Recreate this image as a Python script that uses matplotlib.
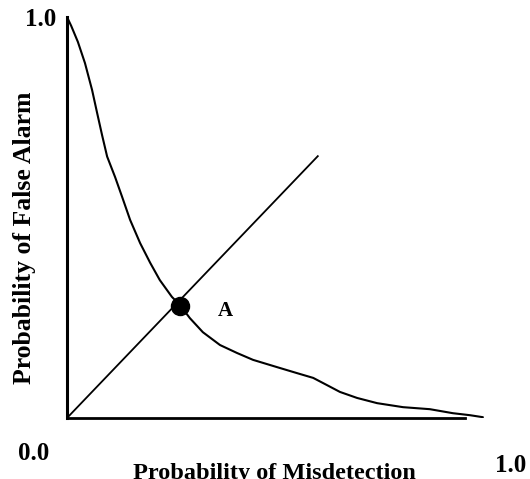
import matplotlib.pyplot as plt

# trade-off curve (misdetection vs false alarm)
curve_x = [0.0, 0.010, 0.026, 0.043, 0.060, 0.072, 0.084, 0.096, 0.115, 0.132,
           0.151, 0.175, 0.199, 0.222, 0.251, 0.270, 0.294, 0.325, 0.366, 0.407,
           0.445, 0.502, 0.550, 0.589, 0.622, 0.653, 0.694, 0.742, 0.804, 0.868,
           0.923, 0.964, 0.995]
curve_y = [1.0, 0.978, 0.938, 0.885, 0.818, 0.761, 0.705, 0.652, 0.601, 0.551,
           0.494, 0.436, 0.387, 0.344, 0.302, 0.282, 0.249, 0.214, 0.182, 0.162,
           0.145, 0.127, 0.112, 0.100, 0.082, 0.065, 0.050, 0.037, 0.027, 0.022,
           0.012, 0.007, 0.002]

# straight line through the operating point
diag_x = [0.0, 0.600]
diag_y = [0.0, 0.653]

point_x = 0.270
point_y = 0.280
point_label = "A"

W, H = 530, 479
fig = plt.figure(figsize=(W / 100, H / 100), dpi=100)
ax = fig.add_axes([67 / W, (H - 418) / H, (485 - 67) / W, (418 - 17) / H])

font = dict(family="Liberation Serif", fontweight="bold", color="black")

ax.plot(curve_x, curve_y, color="black", lw=1.5, solid_capstyle="round",
        solid_joinstyle="round")
ax.plot(diag_x, diag_y, color="black", lw=1.3)
ax.plot(point_x, point_y, "o", color="black", markersize=13)
ax.text(point_x + 0.108, point_y - 0.013, point_label, fontsize=15,
        ha="center", va="center", **font)

ax.set_xlim(0, 1)
ax.set_ylim(0, 1)
ax.set_xticks([])
ax.set_yticks([])
for s in ["top", "right"]:
    ax.spines[s].set_visible(False)
ax.spines["left"].set_linewidth(2.2)
ax.spines["bottom"].set_linewidth(2.0)
ax.spines["bottom"].set_bounds(0, 0.952)

fig.text(56 / W, 1 - 19 / H, "1.0", fontsize=18, ha="right", va="center", **font)
fig.text(34 / W, 1 - 453 / H, "0.0", fontsize=18, ha="center", va="center", **font)
fig.text(511 / W, 1 - 465 / H, "1.0", fontsize=18, ha="center", va="center", **font)
fig.text(274 / W, 1 - 473 / H, "Probability of Misdetection", fontsize=17.5,
         ha="center", va="center", **font)
fig.text(25 / W, 1 - 238 / H, "Probability of False Alarm", fontsize=18.5,
         ha="center", va="center", rotation=90, **font)

fig.savefig("out.png", dpi=100)
